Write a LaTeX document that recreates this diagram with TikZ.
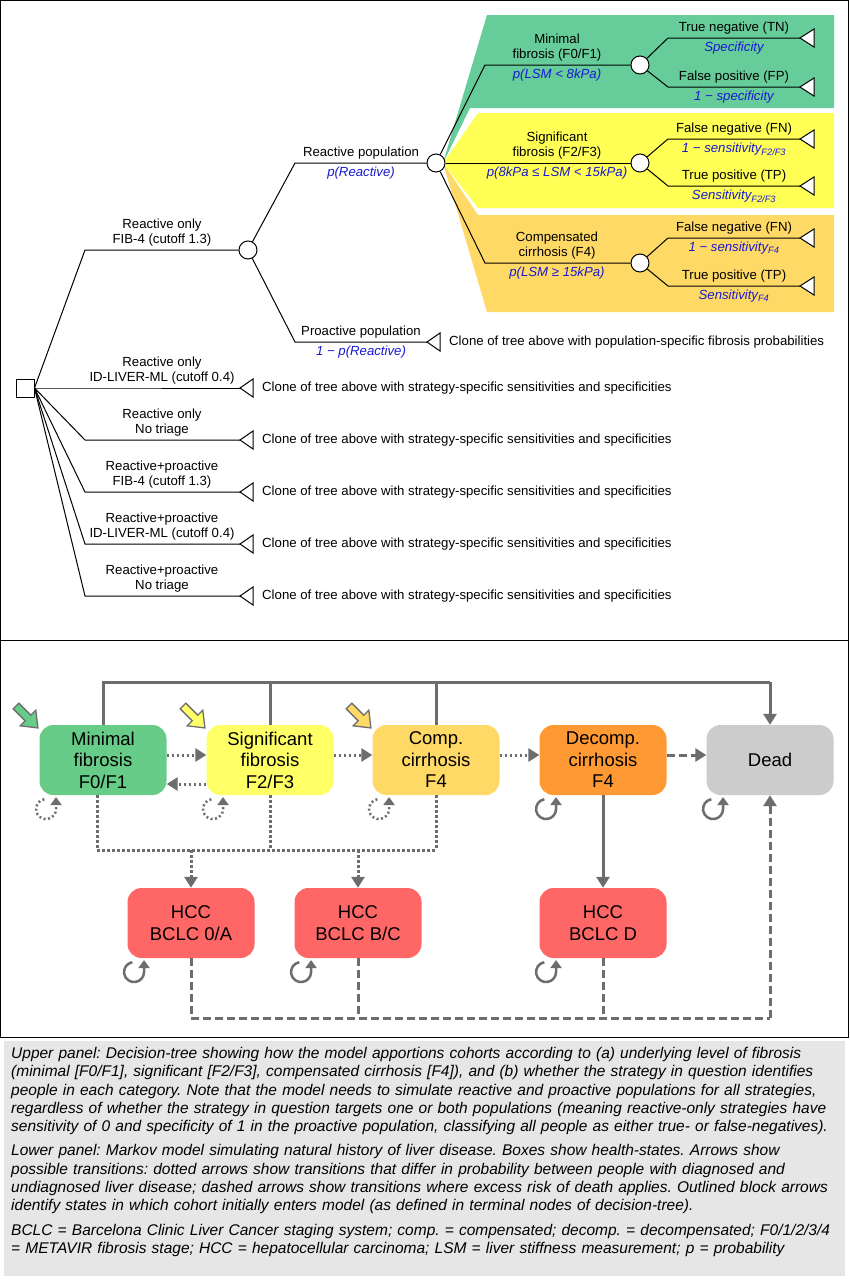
\documentclass[tikz,border=0pt]{standalone}
\usepackage{fontspec}
\setmainfont{Liberation Sans}
\usetikzlibrary{arrows.meta}
\newcommand\tfs{\fontsize{13.2}{15}\selectfont}
\newcommand\bfsz{\fontsize{18.5}{21.5}\selectfont}
\definecolor{tgreen}{HTML}{66CC99}
\definecolor{tyellow}{HTML}{FFFF55}
\definecolor{torange}{HTML}{FFD966}
\definecolor{bgreen}{HTML}{66CC88}
\definecolor{byellow}{HTML}{FFFF66}
\definecolor{bdecomp}{HTML}{FF9933}
\definecolor{bdead}{HTML}{CCCCCC}
\definecolor{bhcc}{HTML}{FF6666}
\definecolor{gl}{HTML}{6D6D6D}
\definecolor{pblue}{HTML}{1A1AD0}
\definecolor{capbg}{HTML}{E6E6E6}
\begin{document}
\frenchspacing
\begin{tikzpicture}[x=1pt,y=-1pt,
  tl/.style={black,line width=1pt},
  circ/.style={circle,draw,line width=1pt,fill=white,minimum size=18pt,inner sep=0pt},
  lab/.style={font=\tfs,align=center,inner sep=1pt},
  prob/.style={font=\tfs\itshape,text=pblue,align=center,inner sep=1pt},
  term/.style={tl,fill=white},
  box/.style={rounded corners=14pt,minimum width=127pt,minimum height=70pt,font=\bfsz,align=center,inner sep=0pt},
  gline/.style={gl,line width=3pt},
  tip/.style={-{Triangle[width=13pt,length=11pt]}},
  dt/.style={gline,dash pattern=on 2.5pt off 2.5pt},
  ds/.style={gline,dash pattern=on 8pt off 4pt},
  clone/.style={font=\tfs,anchor=west,inner sep=0pt},
  loopa/.style={gl,line width=2.5pt,-{Triangle[width=11pt,length=8pt]}}
]
\useasboundingbox (0,0) rectangle (849,1280);
\fill[white] (0,0) rectangle (849,1280);
% frames
\draw[line width=1pt] (0.5,0.5) rectangle (848.5,1037);
\draw[line width=1pt] (0.5,640) -- (848.5,640);
% colour bands
\fill[tgreen] (443,163) -- (487,15) -- (834,15) -- (834,108) -- (470,108) -- cycle;
\fill[tyellow] (443,163) -- (478,113) -- (834,113) -- (834,208) -- (478,208) -- cycle;
\fill[torange] (443,163) -- (478,215) -- (834,215) -- (834,312) -- (487,312) -- cycle;
% root
\node[draw,line width=1pt,fill=white,minimum size=18pt,inner sep=0pt] (r) at (25,388) {};
\node[circ] (c0) at (248,250) {};
\node[circ] (cR) at (436,163) {};
\node[circ] (cF1) at (640,65) {};
\node[circ] (cF2) at (640,163) {};
\node[circ] (cF3) at (640,263) {};
% main branch
\draw[tl] (r.east) -- (85,250) -- (c0);
\node[lab,anchor=south] at (162,247) {Reactive only\\FIB-4 (cutoff 1.3)};
\draw[tl] (c0) -- (295,163) -- (cR);
\node[lab,anchor=south] at (361,160) {Reactive population};
\node[prob,anchor=north] at (361,166) {p(Reactive)};
\coordinate (tP) at (427,342);
\draw[tl] (c0) -- (295,342) -- (tP);
\draw[term] (tP) -- (440,333) -- (440,351) -- cycle;
\node[lab,anchor=south] at (361,339) {Proactive population};
\node[prob,anchor=north] at (361,345) {1 − p(Reactive)};
\node[clone] at (449,342) {Clone of tree above with population-specific fibrosis probabilities};
% fibrosis branches
\draw[tl] (cR) -- (485,65) -- (cF1);
\draw[tl] (cR) -- (cF2);
\draw[tl] (cR) -- (485,263) -- (cF3);
\node[lab,anchor=south] at (557,62) {Minimal\\fibrosis (F0/F1)};
\node[prob,anchor=north] at (557,68) {p(LSM < 8kPa)};
\node[lab,anchor=south] at (557,160) {Significant\\fibrosis (F2/F3)};
\node[prob,anchor=north] at (557,166) {p(8kPa ≤ LSM < 15kPa)};
\node[lab,anchor=south] at (557,260) {Compensated\\cirrhosis (F4)};
\node[prob,anchor=north] at (557,266) {p(LSM ≥ 15kPa)};
% terminals
\foreach \c/\ya/\yb/\la/\pa/\lb/\pb in {
  cF1/38/87/True negative (TN)/Specificity/False positive (FP)/1 − specificity,
  cF2/139/186/False negative (FN)/1 − sensitivity\textsubscript{F2/F3}/True positive (TP)/Sensitivity\textsubscript{F2/F3},
  cF3/238/286/False negative (FN)/1 − sensitivity\textsubscript{F4}/True positive (TP)/Sensitivity\textsubscript{F4}}{
  \coordinate (ta) at (800,\ya);
  \coordinate (tb) at (800,\yb);
  \draw[tl] (\c) -- (668,\ya) -- (ta);
  \draw[tl] (\c) -- (668,\yb) -- (tb);
  \draw[term] (ta) -- (814,\ya-9) -- (814,\ya+9) -- cycle;
  \draw[term] (tb) -- (814,\yb-9) -- (814,\yb+9) -- cycle;
  \node[lab,anchor=south] at (734,\ya-3) {\la};
  \node[prob,anchor=north] at (734,\ya+3) {\pa};
  \node[lab,anchor=south] at (734,\yb-3) {\lb};
  \node[prob,anchor=north] at (734,\yb+3) {\pb};
}
% other strategies
\foreach \y/\la/\lb in {388/Reactive only/ID-LIVER-ML (cutoff 0.4),440/Reactive only/No triage,492/Reactive+proactive/FIB-4 (cutoff 1.3),544/Reactive+proactive/ID-LIVER-ML (cutoff 0.4),596/Reactive+proactive/No triage}{
  \coordinate (ts) at (240,\y);
  \draw[tl] (r.east) -- (85,\y) -- (ts);
  \draw[term] (ts) -- (253,\y-9) -- (253,\y+9) -- cycle;
  \node[lab,anchor=south] at (162,\y-3) {\la\\\lb};
  \node[clone] at (262,\y) {Clone of tree above with strategy-specific sensitivities and specificities};
}
% ===== lower panel
\node[box,fill=bgreen] (mf) at (103,760) {Minimal\\fibrosis\\F0/F1};
\node[box,fill=byellow] (sf) at (270,760) {Significant\\fibrosis\\F2/F3};
\node[box,fill=torange] (cc) at (436,760) {Comp.\\cirrhosis\\F4};
\node[box,fill=bdecomp] (dc) at (603,760) {Decomp.\\cirrhosis\\F4};
\node[box,fill=bdead] (dead) at (770,760) {Dead};
\node[box,fill=bhcc] (h1) at (191,923) {HCC\\BCLC 0/A};
\node[box,fill=bhcc] (h2) at (358,923) {HCC\\BCLC B/C};
\node[box,fill=bhcc] (h3) at (603,923) {HCC\\BCLC D};
% top death line
\coordinate (top) at (770,682);
\draw[gline] (mf.north) -- (103,682) -- (top);
\draw[gline] (sf.north) -- (270,682);
\draw[gline] (cc.north) -- (436,682);
\draw[gline,tip] (top) -- (dead.north);
% horizontal transitions
\draw[dt,tip] ([yshift=5pt]mf.east) -- ([yshift=5pt]sf.west);
\draw[dt,tip] ([yshift=-24pt]sf.west) -- ([yshift=-24pt]mf.east);
\draw[dt,tip] ([yshift=5pt]sf.east) -- ([yshift=5pt]cc.west);
\draw[dt,tip] ([yshift=5pt]cc.east) -- ([yshift=5pt]dc.west);
\draw[ds,tip] ([yshift=5pt]dc.east) -- ([yshift=5pt]dead.west);
% to HCC
\coordinate (hl) at (97,850);
\draw[dt] ([xshift=-6pt]mf.south) -- (hl) -- (436,850);
\draw[dt] (sf.south) -- (270,850);
\draw[dt] (cc.south) -- (436,850);
\draw[dt,tip] (191,850) -- (h1.north);
\draw[dt,tip] (358,850) -- (h2.north);
\draw[gline,tip] (dc.south) -- (h3.north);
% dashed to dead
\coordinate (bl) at (770,1018);
\draw[ds] (h1.south) -- (191,1018) -- (bl);
\draw[ds] (h2.south) -- (358,1018);
\draw[ds] (h3.south) -- (603,1018);
\draw[ds,tip] (bl) -- (dead.south);
% self loops
\foreach \b in {mf,sf,cc}{
  \draw[loopa,dash pattern=on 2pt off 2.5pt]
    ([shift={(5pt,-4pt)}]\b.south west) arc[start angle=100,end angle=360,radius=10pt] -- ++(0,-12);
}
\foreach \b in {dc,dead,h1,h2,h3}{
  \draw[loopa]
    ([shift={(5pt,-4pt)}]\b.south west) arc[start angle=100,end angle=360,radius=10pt] -- ++(0,-12);
}
% entry block arrows
\foreach \x/\c in {16/bgreen,183/byellow,349/torange}{
  \begin{scope}[shift={(\x,706)},rotate=-45]
    \draw[gl,line width=1.3pt,fill=\c] (0,-4) -- (17,-4) -- (17,-11) -- (31,0) -- (17,11) -- (17,4) -- (0,4) -- cycle;
  \end{scope}
}
% caption
\fill[capbg] (4,1041) rectangle (845,1276);
\node[anchor=north west,text width=828pt,font=\fontsize{15.5}{18.3}\selectfont\itshape,inner sep=0pt,align=left] (cap) at (11,1047) {\hyphenpenalty=10000 Upper panel: Decision-tree showing how the model apportions cohorts according to (a) underlying level of fibrosis (minimal [F0/F1], significant [F2/F3], compensated cirrhosis [F4]), and (b) whether the strategy in question identifies people in each category. Note that the model needs to simulate reactive and proactive populations for all strategies, regardless of whether the strategy in question targets one or both populations (meaning reactive-only strategies have sensitivity of 0 and specificity of 1 in the proactive population, classifying all people as either true- or false-negatives).\par\vspace{6pt}
Lower panel: Markov model simulating natural history of liver disease. Boxes show health-states. Arrows show possible transitions: dotted arrows show transitions that differ in probability between people with diagnosed and undiagnosed liver disease; dashed arrows show transitions where excess risk of death applies. Outlined block arrows identify states in which cohort initially enters model (as defined in terminal nodes of decision-tree).\par\vspace{6pt}
BCLC = Barcelona Clinic Liver Cancer staging system; comp. = compensated; decomp. = decompensated; F0/1/2/3/4 = METAVIR fibrosis stage; HCC = hepatocellular carcinoma; LSM = liver stiffness measurement; p = probability};
\end{tikzpicture}
\end{document}
